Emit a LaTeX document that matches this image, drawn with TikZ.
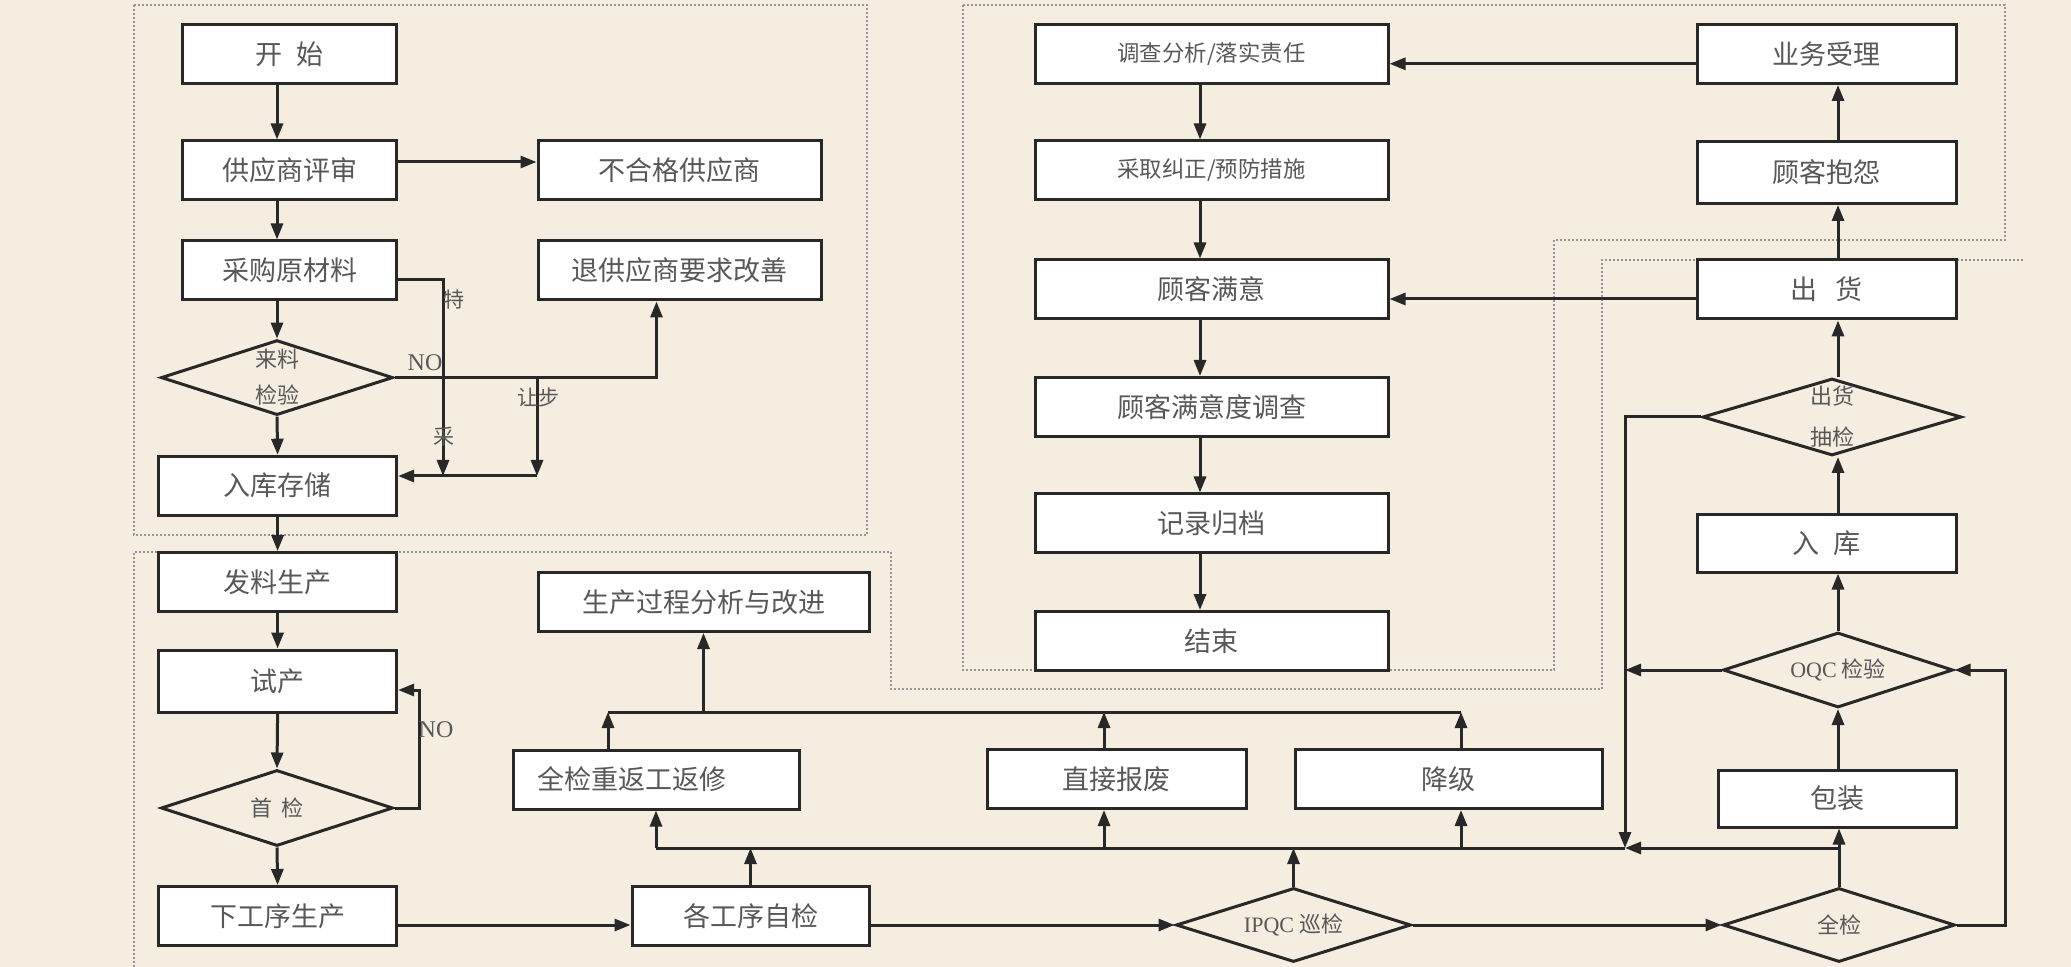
\documentclass[tikz,border=0pt]{standalone}
\usepackage{fontspec}
\setmainfont{Noto Sans CJK SC}
\newfontfamily\latinfont{Liberation Serif}
\usepackage{xcolor}
\usetikzlibrary{arrows.meta,shapes.geometric}

\definecolor{paper}{RGB}{244,237,224}
\definecolor{ink}{RGB}{40,40,40}
\definecolor{txt}{RGB}{88,88,88}
\definecolor{frame}{RGB}{150,150,150}

\begin{document}
\begin{tikzpicture}[x=0.5pt,y=-0.5pt,>={Triangle[length=8pt,width=6pt]},
    color=ink, line width=1.5pt,
    font=\fontsize{13.5pt}{16pt}\selectfont,
    box/.style={draw=ink, fill=white, minimum width=#1, minimum height=29.5pt, inner sep=0pt, text=txt},
    dia/.style 2 args={diamond, draw=ink, aspect=3.1, inner sep=0pt, minimum width=#1, minimum height=#2,
        text=txt, align=center, font=\fontsize{11pt}{18pt}\selectfont},
    small/.style={font=\fontsize{11.2pt}{13pt}\selectfont},
    lbl/.style={text=txt, inner sep=0pt, font=\fontsize{10.5pt}{12pt}\selectfont},
    nolbl/.style={text=txt, inner sep=0pt, font=\latinfont\fontsize{12pt}{14pt}\selectfont},
    frm/.style={draw=frame, densely dotted, line width=1pt},
    arr/.style={->}]

    % Page and background
    \useasboundingbox (0,0) rectangle (2071,967);
    \fill[paper] (0,0) rectangle (2071,967);

    % Dotted frames
    \draw[frm] (134,5) rectangle (867,535);
    \draw[frm] (963,5) -- (2005,5) -- (2005,240) -- (1554,240) -- (1554,670) -- (963,670) -- cycle;
    \draw[frm] (134,967) -- (134,552) -- (891,552) -- (891,689) -- (1602,689) -- (1602,260) -- (2025,260);

    % Supplier control
    \node[box=107pt] (kaishi) at (289.5,54) {开\hspace{0.5em}始};
    \node[box=107pt] (pingshen) at (289.5,170.5) {供应商评审};
    \node[box=141.5pt] (buhege) at (679.5,170.5) {不合格供应商};
    \node[box=107pt] (caigou) at (289.5,270.5) {采购原材料};
    \node[box=141.5pt] (tuihui) at (679.5,270.5) {退供应商要求改善};
    \node[dia={116pt}{37.5pt}] (laijian) at (277,377.6) {来料\\检验};
    \node[box=119pt] (cunchu) at (277.6,485.7) {入库存储};

    % Production control
    \node[box=119pt] (faliao) at (277.6,582) {发料生产};
    \node[box=119pt, minimum height=31pt] (shichan) at (277.6,681) {试产};
    \node[dia={116pt}{38pt}] (shoujian) at (277,808) {首\hspace{0.4em}检};
    \node[box=119pt] (xiadao) at (277.6,916) {下工序生产};
    \node[box=118.5pt] (zijian) at (750.5,916) {各工序自检};
    \node[box=143pt, text width=119pt, align=left] (fanxiu) at (656,779.5) {全检重返工返修};
    \node[box=165.5pt] (gaijin) at (703.5,602) {生产过程分析与改进};
    \node[box=129.5pt] (baofei) at (1116.5,779) {直接报废};
    \node[box=153.5pt] (jiangji) at (1448.5,779) {降级};
    \node[dia={117.5pt}{37pt}] (ipqc) at (1293.5,925) {{\latinfont IPQC} 巡检};
    \node[dia={116pt}{37pt}] (quanjian) at (1839,925) {全检};
    \node[box=119pt, minimum height=28.5pt] (baozhuang) at (1837,798.5) {包装};
    \node[dia={115pt}{37.5pt}] (oqc) at (1838,670) {{\latinfont OQC} 检验};
    \node[box=129.5pt, minimum height=28.5pt] (ruku) at (1826.5,543.5) {入\hspace{0.5em}库};
    \node[dia={129.5pt}{38.5pt}, font=\fontsize{11pt}{20.5pt}\selectfont] (choujian) at (1832,417) {出货\\抽检};
    \node[box=129.5pt] (chuhuo) at (1826.5,289.5) {出\hspace{0.7em}货};
    \node[box=129.5pt, minimum height=31pt] (baoyuan) at (1826.5,172.5) {顾客抱怨};
    \node[box=129.5pt] (shouli) at (1826.5,54) {业务受理};

    % Customer service
    \node[box=176.5pt, small] (diaocha) at (1211.5,54) {调查分析/落实责任};
    \node[box=176.5pt, small] (cuoshi) at (1211.5,170.5) {采取纠正/预防措施};
    \node[box=176.5pt] (manyi) at (1211.5,289.5) {顾客满意};
    \node[box=176.5pt] (mydiaocha) at (1211.5,407) {顾客满意度调查};
    \node[box=176.5pt] (guidang) at (1211.5,523.5) {记录归档};
    \node[box=176.5pt] (jieshu) at (1211.5,641) {结束};

    % Bend points
    \coordinate (tecai) at (443,476);
    \coordinate (rangbu) at (537,476);
    \coordinate (fanhui) at (419.5,690);
    \coordinate (huan) at (2005,670);
    \coordinate (b1) at (656,848);
    \coordinate (b2) at (1104,848);
    \coordinate (b3) at (1293.5,848);
    \coordinate (b4) at (1461,848);
    \coordinate (b5) at (1625,848);
    \coordinate (b6) at (1838,848);
    \coordinate (u1) at (608,712);
    \coordinate (u2) at (703.5,712);
    \coordinate (u3) at (1104,712);
    \coordinate (u4) at (1461,712);

    % Supplier flow
    \draw[arr] (kaishi.south -| laijian) -- (pingshen.north -| laijian);
    \draw[arr] (pingshen.south -| laijian) -- (caigou.north -| laijian);
    \draw[arr] (caigou.south -| laijian) -- (laijian.north);
    \draw[arr] (laijian.south) -- (cunchu.north);
    \draw[arr] ([yshift=4.25pt]pingshen.east) -- ([yshift=4.25pt]buhege.west);
    \draw[arr] ([yshift=-4.75pt]caigou.east) -| (tecai);
    \draw[arr] (laijian.east) -| ([xshift=-11.5pt]tuihui.south);
    \draw[arr] (laijian.east -| rangbu) -- (rangbu);
    \draw[arr] (rangbu) -- (cunchu.east |- rangbu);
    \node[nolbl] (no1) at (425,363) {NO};
    \node[lbl] (te) at (454,300) {特};
    \node[lbl] (cai) at (444,437) {采};
    \node[lbl] (rang) at (538,397) {让步};

    % Production flow
    \draw[arr] (cunchu.south) -- (faliao.north);
    \draw[arr] (faliao.south) -- (shichan.north);
    \draw[arr] (shichan.south) -- (shoujian.north);
    \draw[arr] (shoujian.south) -- (xiadao.north);
    \draw[arr] (shoujian.east) -| (fanhui) -- (shichan.east |- fanhui);
    \node[nolbl] (no2) at (436,730) {NO};
    \draw[arr] (xiadao.east |- ipqc) -- (zijian.west |- ipqc);
    \draw[arr] (zijian.east |- ipqc) -- (ipqc.west);
    \draw[arr] (ipqc.east) -- (quanjian.west);

    % Lower bus: rework, scrap, downgrade
    \draw (b1) -- (b5);
    \draw[arr] (b6) -- (b5);
    \draw[arr] (zijian.north) -- (zijian.north |- b1);
    \draw[arr] (ipqc.north) -- (b3);
    \draw[arr] (b1) -- (fanxiu.south);
    \draw[arr] (b2) -- (b2 |- baofei.south);
    \draw[arr] (b4) -- (b4 |- jiangji.south);
    \draw[arr] (choujian.west) -| (b5);
    \draw[arr] (oqc.west) -- (oqc.west -| b5);

    % Upper bus: analysis
    \draw (u1) -- (u4);
    \draw[arr] (u1 |- fanxiu.north) -- (u1);
    \draw[arr] (u3 |- baofei.north) -- (u3);
    \draw[arr] (u4 |- jiangji.north) -- (u4);
    \draw[arr] (u2) -- (gaijin.south);

    % Final inspection and shipping
    \draw[arr] (quanjian.north) -- (baozhuang.south -| quanjian);
    \draw[arr] (quanjian.east) -| (huan) -- (oqc.east);
    \draw[arr] (baozhuang.north -| oqc) -- (oqc.south);
    \draw[arr] (oqc.north) -- (ruku.south -| oqc);
    \draw[arr] (ruku.north -| oqc) -- (choujian.south -| oqc);
    \draw[arr] (choujian.north -| oqc) -- (chuhuo.south -| oqc);
    \draw[arr] (chuhuo.north -| oqc) -- (baoyuan.south -| oqc);
    \draw[arr] (baoyuan.north -| oqc) -- (shouli.south -| oqc);
    \draw[arr] ([yshift=-4.9pt]shouli.west) -- ([yshift=-4.9pt]diaocha.east);
    \draw[arr] ([yshift=-4.75pt]chuhuo.west) -- ([yshift=-4.75pt]manyi.east);

    % Customer flow
    \draw[arr] ([xshift=-5.75pt]diaocha.south) -- ([xshift=-5.75pt]cuoshi.north);
    \draw[arr] ([xshift=-5.75pt]cuoshi.south) -- ([xshift=-5.75pt]manyi.north);
    \draw[arr] ([xshift=-5.75pt]manyi.south) -- ([xshift=-5.75pt]mydiaocha.north);
    \draw[arr] ([xshift=-5.75pt]mydiaocha.south) -- ([xshift=-5.75pt]guidang.north);
    \draw[arr] ([xshift=-5.75pt]guidang.south) -- ([xshift=-5.75pt]jieshu.north);

\end{tikzpicture}
\end{document}
